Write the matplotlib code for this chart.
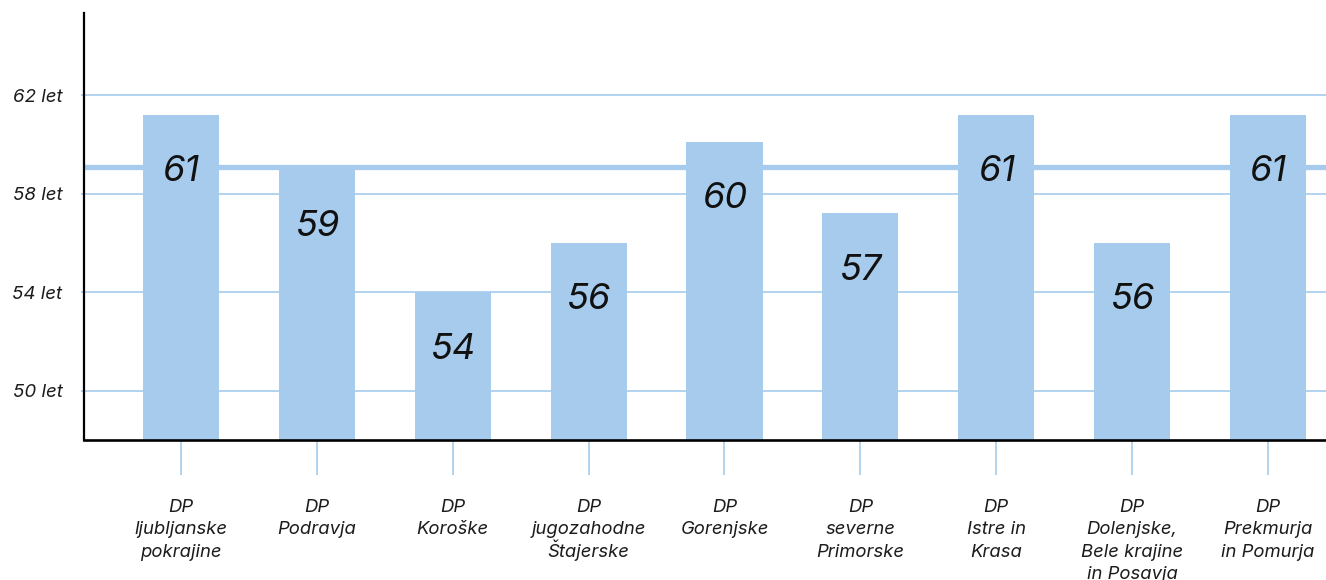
import matplotlib
matplotlib.use("Agg")
import matplotlib.pyplot as plt

# Data
regions = [
    "DP\nljubljanske\npokrajine",
    "DP\nPodravja",
    "DP\nKoroške",
    "DP\njugozahodne\nŠtajerske",
    "DP\nGorenjske",
    "DP\nseverne\nPrimorske",
    "DP\nIstre in\nKrasa",
    "DP\nDolenjske,\nBele krajine\nin Posavja",
    "DP\nPrekmurja\nin Pomurja",
]
ages = [61.2, 59.0, 54.0, 56.0, 60.1, 57.2, 61.2, 56.0, 61.2]
average_age = 59.1
y_ticks = [50, 54, 58, 62]
y_tick_labels = ["50 let", "54 let", "58 let", "62 let"]

blue = "#a6cbec"
text_color = "#1c1c1c"
plt.rcParams["font.family"] = ["Inter", "DejaVu Sans"]

fig = plt.figure(figsize=(13.26, 5.8), dpi=100)
ax = fig.add_axes([84 / 1326, 1 - 440 / 580, 1 - 84 / 1326, (440 - 12.7) / 580])

x = list(range(len(regions)))

# grid + average line behind bars
for t in y_ticks:
    ax.axhline(t, color=blue, lw=1.2, zorder=1)
ax.axhline(average_age, color=blue, lw=3.8, zorder=1)

ax.bar(x, ages, width=0.56, color=blue, zorder=2)

for xi, v in zip(x, ages):
    ax.annotate(f"{round(v)}", (xi, v), xytext=(0, -41), textcoords="offset points",
                ha="center", va="center", fontsize=26, style="italic",
                color="#111111", zorder=3)

ax.set_xlim(-0.714, 8.427)
ax.set_ylim(48, 65.35)

ax.set_yticks(y_ticks)
ax.set_yticklabels(y_tick_labels, fontsize=13.5, style="italic", color=text_color)
ax.tick_params(axis="y", length=2, width=1.2, color=blue, pad=13.5)

# x labels: each line placed separately so the caron in "Š" doesn't shift spacing
ax.set_xticks(x)
ax.set_xticklabels([])
ax.tick_params(axis="x", length=25, width=1.2, color=blue)
for xi, name in zip(x, regions):
    for j, line in enumerate(name.split("\n")):
        ax.annotate(line, (xi, 0), xycoords=ax.get_xaxis_transform(),
                    xytext=(0, -51.6 - 16.2 * j), textcoords="offset points",
                    ha="center", va="baseline", fontsize=13.3, style="italic",
                    color=text_color, annotation_clip=False)

for s in ["top", "right"]:
    ax.spines[s].set_visible(False)
ax.spines["left"].set_linewidth(1.6)
ax.spines["bottom"].set_linewidth(1.9)
ax.spines["left"].set_zorder(4)
ax.spines["bottom"].set_zorder(4)

fig.savefig("out.png", dpi=100)
